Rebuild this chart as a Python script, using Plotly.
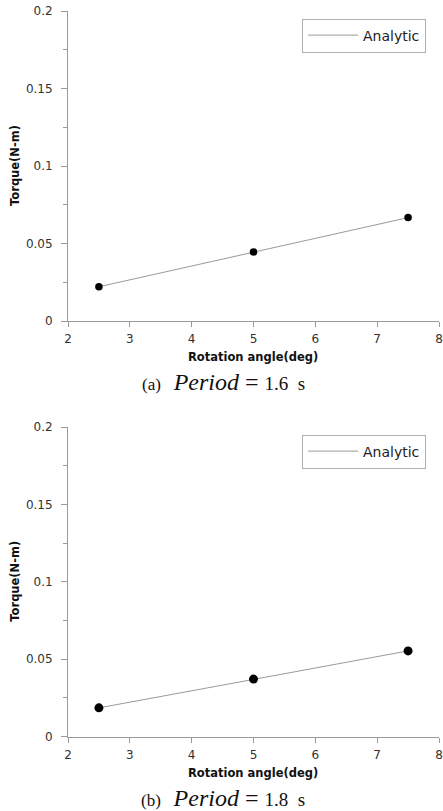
import plotly.graph_objects as go

# Data
angles = [2.5, 5.0, 7.5]
torque_a = [0.0221, 0.0445, 0.0667]   # Period = 1.6 s
torque_b = [0.0185, 0.0371, 0.0553]   # Period = 1.8 s
series_name = "Analytic"
x_title = "Rotation angle(deg)"
y_title = "Torque(N-m)"
captions = ["(a)", "(b)"]
periods = ["1.6", "1.8"]

W, H = 443, 811
ML, MR = 68, 4
PW = W - ML - MR

def py(px):
    return (H - px) / H

fig = go.Figure()

panels = [
    dict(y=torque_a, xa="x", ya="y", top=11, bot=321, ms=7.5, legend="legend"),
    dict(y=torque_b, xa="x2", ya="y2", top=427, bot=736.5, ms=9, legend="legend2"),
]

for i, p in enumerate(panels):
    fig.add_trace(go.Scatter(x=angles, y=p["y"], mode="lines", name=series_name,
                             line=dict(color="#9a9a9a", width=1),
                             xaxis=p["xa"], yaxis=p["ya"], legend=p["legend"], showlegend=True))
    fig.add_trace(go.Scatter(x=angles, y=p["y"], mode="markers",
                             marker=dict(color="black", size=p["ms"]),
                             xaxis=p["xa"], yaxis=p["ya"], showlegend=False))

axfont = dict(family="DejaVu Sans", size=12, color="#333")
common_x = dict(range=[2, 8], dtick=1, tick0=2, showline=True, linecolor="#9a9a9a", linewidth=1,
                ticks="outside", ticklen=5, tickcolor="#9a9a9a", showgrid=False, zeroline=False,
                tickfont=axfont, ticklabelstandoff=2, fixedrange=True, automargin=False)
common_y = dict(range=[0, 0.2], tickvals=[0, 0.05, 0.1, 0.15, 0.2], ticktext=["0", "0.05", "0.1", "0.15", "0.2"],
                showline=True, linecolor="#9a9a9a", linewidth=1,
                ticks="outside", ticklen=6, tickcolor="#9a9a9a", showgrid=False, zeroline=False,
                minor=dict(dtick=0.025, tick0=0, ticks="outside", ticklen=4, tickcolor="#9a9a9a"),
                tickfont=axfont, ticklabelstandoff=6, fixedrange=True, automargin=False)

layout = dict(
    width=W, height=H,
    margin=dict(l=ML, r=MR, t=0, b=0, autoexpand=False),
    plot_bgcolor="white", paper_bgcolor="white",
    font=dict(family="DejaVu Sans", color="#333"),
    xaxis=dict(domain=[0, 1], anchor="y", **common_x),
    yaxis=dict(domain=[py(321), py(11)], anchor="x", **common_y),
    xaxis2=dict(domain=[0, 1], anchor="y2", **common_x),
    yaxis2=dict(domain=[py(736.5), py(427)], anchor="x2", **common_y),
)
fig.update_layout(**layout)

NB = "\u00a0"
annotations = []
for i, p in enumerate(panels):
    # legend
    leg = dict(x=(302 - ML) / PW, y=py(p["top"] + 7.5), xanchor="left", yanchor="top",
               bordercolor="#b0b0b0", borderwidth=1, bgcolor="white",
               font=dict(family="DejaVu Sans", size=14, color="#222"),
               itemwidth=50, tracegroupgap=0)
    fig.update_layout(**{p["legend"]: leg})
    # y title
    annotations.append(dict(text="<b>" + y_title + "</b>", xref="paper", yref="paper",
                            x=(15 - ML) / PW, y=py((p["top"] + p["bot"]) / 2), textangle=-90,
                            showarrow=False, xanchor="center", yanchor="middle",
                            font=dict(family="DejaVu Sans", size=11.5, color="#111")))
    # x title
    annotations.append(dict(text="<b>" + x_title + "</b>", xref="paper", yref="paper",
                            x=(253 - ML) / PW, y=py(p["bot"] + 36), showarrow=False,
                            xanchor="center", yanchor="middle",
                            font=dict(family="DejaVu Sans", size=11.5, color="#111")))
    # caption
    cap = (captions[i] + NB + NB + NB
           + "<span style='font-size:24px'><i>Period</i>" + NB + "=" + NB + "</span>"
           + "<span style='font-size:19px'>" + periods[i] + NB + NB + "s</span>")
    annotations.append(dict(text=cap, xref="paper", yref="paper",
                            x=(223 - ML) / PW, y=py(p["bot"] + 61), showarrow=False,
                            xanchor="center", yanchor="middle",
                            font=dict(family="Liberation Serif", size=17, color="#111")))
fig.update_layout(annotations=annotations)

fig.write_html("out.html", config={"displayModeBar": False},
               post_script="document.body.style.margin='0';")
